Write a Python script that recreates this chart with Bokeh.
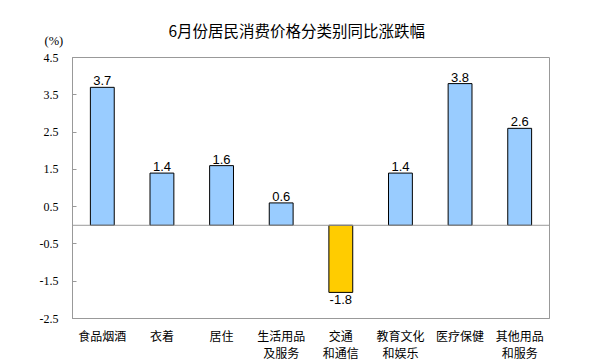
from bokeh.plotting import figure
from bokeh.models import ColumnDataSource, FactorRange, Range1d, FixedTicker, Span, Title
from bokeh.core.properties import value
from bokeh.embed import file_html
from bokeh.resources import INLINE

# ---- data ----
categories = ["食品烟酒", "衣着", "居住", "生活用品\n及服务", "交通\n和通信",
              "教育文化\n和娱乐", "医疗保健", "其他用品\n和服务"]
values = [3.7, 1.4, 1.6, 0.6, -1.8, 1.4, 3.8, 2.6]
y_ticks = [-2.5, -1.5, -0.5, 0.5, 1.5, 2.5, 3.5, 4.5]
y_tick_labels = ["-2.5", "-1.5", "-0.5", "0.5", "1.5", "2.5", "3.5", "4.5"]
title_text = "6月份居民消费价格分类别同比涨跌幅"
unit_text = "(%)"

POS_COLOR = "#99CCFF"
NEG_COLOR = "#FFCC00"
GRAY = "#999999"

colors = [POS_COLOR if v >= 0 else NEG_COLOR for v in values]
src = ColumnDataSource(dict(x=categories, top=values, color=colors))
pos_src = ColumnDataSource(dict(
    x=[c for c, v in zip(categories, values) if v >= 0],
    y=[v for v in values if v >= 0],
    t=[f"{v:.1f}" for v in values if v >= 0]))
neg_src = ColumnDataSource(dict(
    x=[c for c, v in zip(categories, values) if v < 0],
    y=[v for v in values if v < 0],
    t=[f"{v:.1f}" for v in values if v < 0]))

p = figure(width=613, height=363, title=None,
           x_range=FactorRange(factors=categories, range_padding=0),
           y_range=Range1d(y_ticks[0], y_ticks[-1]),
           output_backend="svg", toolbar_location=None,
           min_border_left=72, min_border_right=64,
           min_border_top=57, min_border_bottom=44)

# unit label (nearest the frame) and chart title (outer, pulled down beside it)
p.add_layout(Title(text=unit_text, align="left", offset=-28, standoff=19,
                   text_font="Liberation Serif", text_font_size="12.5px",
                   text_font_style="normal", text_color="black"), "above")
p.add_layout(Title(text=title_text, align="left", offset=96, standoff=-37,
                   text_font="Noto Sans CJK SC", text_font_size="15.5px",
                   text_font_style="normal", text_color="black"), "above")

p.vbar(x="x", top="top", bottom=0, width=0.4, source=src,
       fill_color="color", line_color="black", line_width=1)

p.add_layout(Span(location=0, dimension="width", line_color=GRAY, line_width=1))

p.text(x="x", y="y", text="t", source=pos_src, y_offset=-2,
       text_align="center", text_baseline="bottom",
       text_font=value("Liberation Sans"), text_font_size="13px", text_color="black")
p.text(x="x", y="y", text="t", source=neg_src, y_offset=3,
       text_align="center", text_baseline="top",
       text_font=value("Liberation Sans"), text_font_size="13px", text_color="black")

p.xgrid.grid_line_color = None
p.ygrid.grid_line_color = None
p.outline_line_color = GRAY
p.outline_line_width = 1
p.background_fill_color = "white"
p.border_fill_color = "white"

p.yaxis.ticker = FixedTicker(ticks=y_ticks)
p.yaxis.major_label_overrides = {t: l for t, l in zip(y_ticks, y_tick_labels)}
p.yaxis.minor_tick_line_color = None
p.yaxis.major_tick_in = 4
p.yaxis.major_tick_out = 0
p.yaxis.major_tick_line_color = GRAY
p.yaxis.axis_line_color = GRAY
p.yaxis.major_label_standoff = 14
p.yaxis.major_label_text_font = "Liberation Serif"
p.yaxis.major_label_text_font_size = "12px"
p.yaxis.major_label_text_color = "black"

p.xaxis.major_tick_line_color = None
p.xaxis.minor_tick_line_color = None
p.xaxis.axis_line_color = GRAY
p.xaxis.major_label_standoff = 2
p.xaxis.major_label_text_font = "Noto Sans CJK SC"
p.xaxis.major_label_text_font_size = "12px"
p.xaxis.major_label_text_line_height = 1.0
p.xaxis.major_label_text_color = "black"

open("out.html", "w").write(file_html(p, INLINE))
